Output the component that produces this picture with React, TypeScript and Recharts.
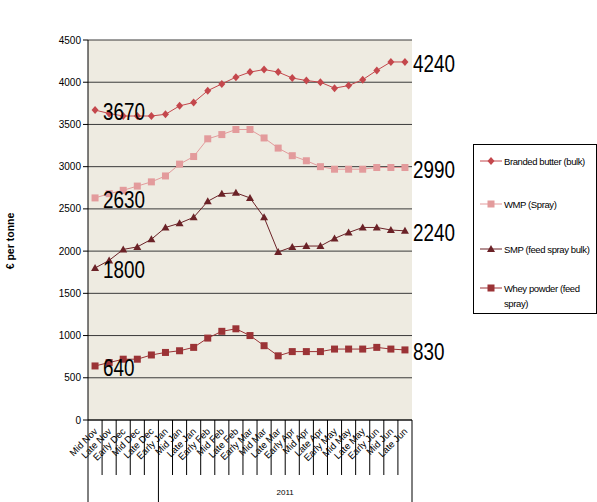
import React from 'react'
import { LineChart, Line, XAxis, YAxis, CartesianGrid, LabelList } from 'recharts'

// periods along the x axis
const periods = [
  'Mid Nov', 'Late Nov', 'Early Dec', 'Mid Dec', 'Late Dec', 'Early Jan', 'Mid Jan', 'Late Jan',
  'Early Feb', 'Mid Feb', 'Late Feb', 'Early Mar', 'Mid Mar', 'Late Mar', 'Early Apr', 'Mid Apr',
  'Late Apr', 'Early May', 'Mid May', 'Late May', 'Early Jun', 'Mid Jun', 'Late Jun',
]

// year groups under the period labels (first/last index)
const yearGroups = [
  { label: '', start: 0, end: 4 },
  { label: '2011', start: 5, end: 22 },
]

const butter = [3670, 3630, 3600, 3600, 3600, 3620, 3720, 3760, 3900, 3980, 4060, 4120, 4150, 4120, 4050, 4020, 4000, 3930, 3960, 4030, 4140, 4240, 4240]
const wmp = [2630, 2680, 2720, 2770, 2820, 2890, 3030, 3120, 3330, 3380, 3440, 3440, 3340, 3220, 3130, 3070, 3000, 2970, 2970, 2970, 2990, 2990, 2990]
const smp = [1800, 1890, 2020, 2050, 2140, 2280, 2330, 2400, 2590, 2680, 2690, 2630, 2400, 1990, 2050, 2060, 2060, 2150, 2220, 2280, 2280, 2250, 2240]
const whey = [640, 680, 720, 720, 770, 800, 820, 860, 970, 1050, 1080, 1000, 880, 760, 810, 810, 810, 840, 840, 840, 860, 840, 830]

const yTicks = [0, 500, 1000, 1500, 2000, 2500, 3000, 3500, 4000, 4500]

const series = [
  { key: 'butter', name: 'Branded butter (bulk)', color: '#C4474C', shape: 'diamond' },
  { key: 'wmp', name: 'WMP (Spray)', color: '#E39B9C', shape: 'square' },
  { key: 'smp', name: 'SMP (feed spray bulk)', color: '#6B2227', shape: 'triangle' },
  { key: 'whey', name: 'Whey powder (feed spray)', color: '#9B3336', shape: 'square' },
]

const data = periods.map((p, i) => ({
  period: p,
  butter: butter[i],
  wmp: wmp[i],
  smp: smp[i],
  whey: whey[i],
}))

const FONT = 'Arial, "Liberation Sans", sans-serif'

const Marker = ({ cx, cy, shape, color }: any) => {
  if (cx == null || cy == null) return null
  if (shape === 'diamond') {
    return <path d={`M${cx},${cy - 4}L${cx + 3.5},${cy}L${cx},${cy + 4}L${cx - 3.5},${cy}Z`} fill={color} />
  }
  if (shape === 'triangle') {
    return <path d={`M${cx},${cy - 4}L${cx + 4},${cy + 3}L${cx - 4},${cy + 3}Z`} fill={color} />
  }
  return <rect x={cx - 3.5} y={cy - 3.5} width={7} height={7} fill={color} />
}

// big value labels only on first and last point, in a narrow face
const EndLabel = (props: any) => {
  const { x, y, value, index } = props
  if (index !== 0 && index !== periods.length - 1) return null
  return (
    <text
      x={0}
      y={0}
      transform={`translate(${x + 8} ${y + 2}) scale(0.82 1)`}
      fontSize={23}
      fontFamily={FONT}
      fill="#000"
      dominantBaseline="central"
    >
      {value}
    </text>
  )
}

const PeriodTick = (props: any) => {
  const { x, y, payload } = props
  const idx = payload.index
  const half = payload.offset || 0
  const top = y - 8
  const isGroupStart = yearGroups.some((g) => g.start === idx)
  const isLast = idx === periods.length - 1
  const group = yearGroups.find((g) => idx >= g.start && idx <= g.end)
  const mid = group ? (group.start + group.end) / 2 : -1
  return (
    <g>
      <line x1={x - half} y1={top} x2={x - half} y2={isGroupStart ? top + 90 : top + 55} stroke="#000" />
      {isLast && <line x1={x + half} y1={top} x2={x + half} y2={top + 90} stroke="#000" />}
      <text
        x={x + 3}
        y={top + 12}
        transform={`rotate(-45 ${x + 3} ${top + 12})`}
        textAnchor="end"
        fontSize={9.5}
        fontFamily={FONT}
        fill="#000"
      >
        {payload.value}
      </text>
      {group && group.label && Math.floor(mid) === idx && (
        <text
          x={mid % 1 ? x + half : x}
          y={top + 75}
          textAnchor="middle"
          fontSize={8}
          fontFamily={FONT}
          fill="#000"
        >
          {group.label}
        </text>
      )}
    </g>
  )
}

const LegendBox = () => (
  <div
    style={{
      position: 'absolute',
      left: 473,
      top: 144,
      border: '1px solid #000',
      width: 124,
      height: 170,
      boxSizing: 'border-box',
      background: '#fff',
      fontFamily: FONT,
      fontSize: 9.5,
      letterSpacing: -0.4,
      color: '#000',
    }}
  >
    {series.map((s, i) => (
      <div
        key={s.key}
        style={{ position: 'absolute', left: 6, top: [10, 53, 98, 137][i], display: 'flex', alignItems: 'flex-start' }}
      >
        <svg width={22} height={12} style={{ flexShrink: 0 }}>
          <line x1={0} y1={6} x2={22} y2={6} stroke={s.color} strokeWidth={1} />
          <Marker cx={11} cy={6} shape={s.shape} color={s.color} />
        </svg>
        <span style={{ marginLeft: 2, lineHeight: '15px', width: 86, marginTop: -1, whiteSpace: i === 3 ? 'normal' : 'nowrap' }}>
          {s.name}
        </span>
      </div>
    ))}
  </div>
)

export default function App() {
  return (
    <div style={{ position: 'fixed', left: 0, top: 0, width: 597, height: 502, background: '#fff' }}>
      <LineChart width={597} height={502} data={data} margin={{ top: 40, right: 185, bottom: 0, left: 28 }}>
        <CartesianGrid horizontal vertical={false} stroke="#3a3a3a" fill="#EEEBE1" />
        <XAxis
          dataKey="period"
          scale="band"
          interval={0}
          height={82}
          axisLine={{ stroke: '#000' }}
          tickLine={false}
          tick={<PeriodTick />}
        />
        <YAxis
          domain={[0, 4500]}
          ticks={yTicks}
          width={60}
          axisLine={{ stroke: '#000' }}
          tickLine={{ stroke: '#000' }}
          tickSize={5}
          tick={{ fontSize: 10, fontFamily: FONT, fill: '#000' }}
          label={({ viewBox }: any) => (
            <text
              x={14}
              y={viewBox.y + viewBox.height / 2 + 11}
              transform={`rotate(-90 14 ${viewBox.y + viewBox.height / 2 + 11})`}
              textAnchor="middle"
              fontSize={10.5}
              fontWeight="bold"
              fontFamily={FONT}
              fill="#000"
            >
              € per tonne
            </text>
          )}
        />
        <YAxis
          yAxisId="r"
          orientation="right"
          domain={[0, 4500]}
          width={0}
          tick={false}
          tickLine={false}
          axisLine={{ stroke: '#999' }}
        />
        {series.map((s) => (
          <Line
            key={s.key}
            dataKey={s.key}
            name={s.name}
            stroke={s.color}
            strokeWidth={1}
            type="linear"
            isAnimationActive={false}
            dot={(p: any) => <Marker key={`${s.key}-${p.index}`} cx={p.cx} cy={p.cy} shape={s.shape} color={s.color} />}
            activeDot={false}
          >
            <LabelList dataKey={s.key} content={<EndLabel />} />
          </Line>
        ))}
      </LineChart>
      <LegendBox />
    </div>
  )
}
